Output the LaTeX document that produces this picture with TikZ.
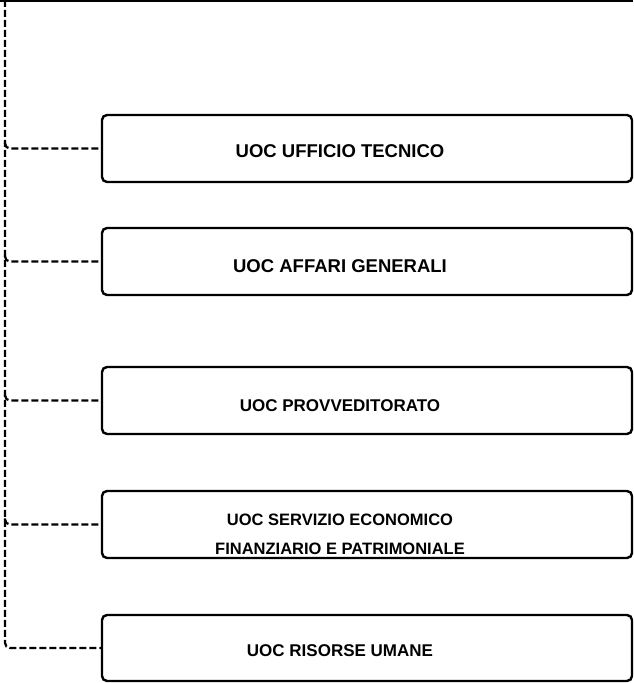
\documentclass[tikz,border=0pt]{standalone}
\usepackage{fontspec}
\setmainfont{Liberation Sans}
\begin{document}
\begin{tikzpicture}[x=1pt,y=1pt,
  unitbox/.style={draw=black, line width=2.4pt, rounded corners=5pt, minimum width=530pt, minimum height=67pt, inner sep=0pt},
  unitlabel/.style={font=\bfseries\fontsize{#1}{29}\selectfont, align=center, inner sep=0pt},
  link/.style={line width=2.2pt, dash pattern=on 7pt off 3pt, rounded corners=5pt}]
\useasboundingbox (0,0) rectangle (633,683);
% top line
\draw[line width=1.3pt] (0,682) -- (633,682);
\draw[line width=2.6pt] (0,682) -- (47,682);
% boxes
\node[unitbox] (b1) at (367,534.5) {};
\node[unitbox] (b2) at (367,421.5) {};
\node[unitbox] (b3) at (367,282.5) {};
\node[unitbox] (b4) at (367,158.5) {};
\node[unitbox, minimum height=66pt] (b5) at (367,35) {};
% labels
\node[unitlabel=18.5] (t1) at (340,532) {UOC UFFICIO TECNICO};
\node[unitlabel=18.5] (t2) at (340,417) {UOC AFFARI GENERALI};
\node[unitlabel=17] (t3) at (340,277) {UOC PROVVEDITORATO};
\node[unitlabel=16.5] (t4) at (340,148.5) {UOC SERVIZIO ECONOMICO\\FINANZIARIO E PATRIMONIALE};
\node[unitlabel=17] (t5) at (340,32) {UOC RISORSE UMANE};
% trunk and branches
\coordinate (top) at (5,683);
\coordinate (j1) at (5,534.5);
\coordinate (j2) at (5,421.5);
\coordinate (j3) at (5,282.5);
\coordinate (j4) at (5,158.5);
\draw[link] (top) |- (b5.west);
\draw[link] ([yshift=6pt]j1) |- (b1.west);
\draw[link] ([yshift=6pt]j2) |- (b2.west);
\draw[link] ([yshift=6pt]j3) |- (b3.west);
\draw[link] ([yshift=6pt]j4) |- (b4.west);
\end{tikzpicture}
\end{document}
